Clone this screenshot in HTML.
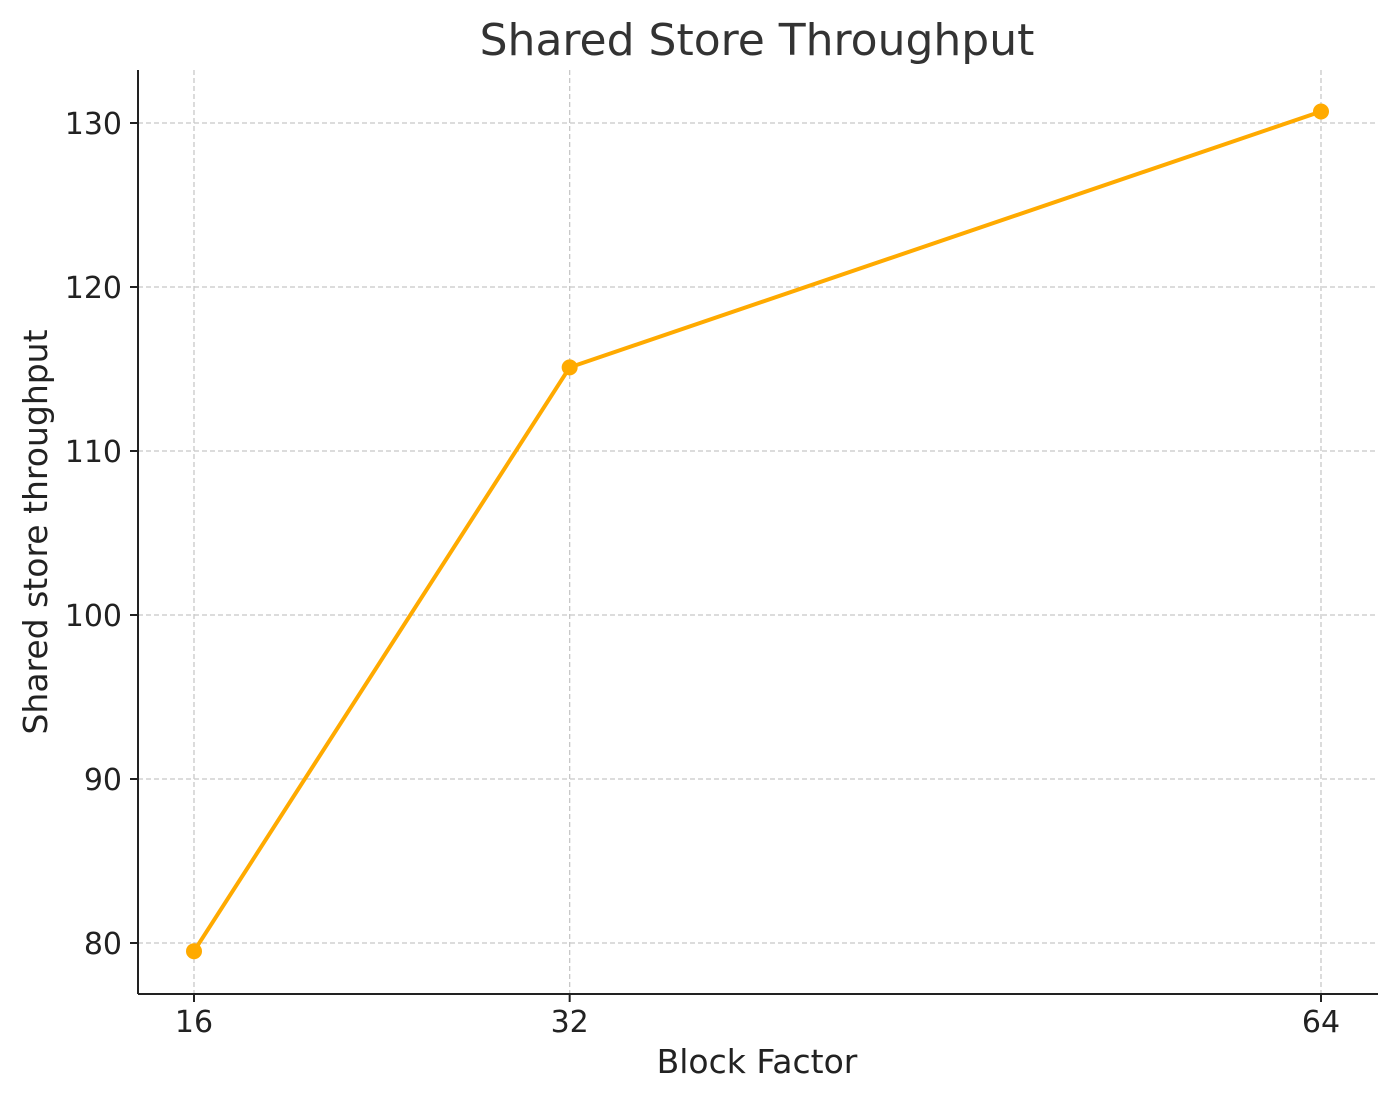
<!DOCTYPE html>
<html><head><meta charset="utf-8">
<style>
html,body{margin:0;padding:0;background:#fff;}
svg{display:block;font-family:"DejaVu Sans","Liberation Sans",sans-serif;}
</style></head>
<body>
<svg id="chart" width="1397" height="1101" viewBox="0 0 1397 1101" xmlns="http://www.w3.org/2000/svg">
<text x="757" y="55" text-anchor="middle" font-size="44" fill="#333">Shared Store Throughput</text>
<g id="grid"></g>
<g id="marks"></g>
<line x1="138" y1="70" x2="138" y2="994" stroke="#222" stroke-width="2"/>
<line x1="138" y1="994" x2="1378" y2="994" stroke="#222" stroke-width="2"/>
<g id="ticks"></g>
<text x="757" y="1073" text-anchor="middle" font-size="33" fill="#222">Block Factor</text>
<text transform="translate(47,532) rotate(-90)" text-anchor="middle" font-size="33" fill="#222">Shared store throughput</text>
</svg>
<script>
const categories = [16, 32, 64];
const values = [79.5, 115.1, 130.7];
const yTicks = [80, 90, 100, 110, 120, 130];
const xTicks = [16, 32, 64];

const NS = "http://www.w3.org/2000/svg";
function xs(v){ return 194 + (v - 16) * (1321 - 194) / 48; }
function ys(v){ return 943 - (v - 80) * (943 - 123) / 50; }
function mk(tag, attrs, parent){
  const e = document.createElementNS(NS, tag);
  for (const k in attrs) e.setAttribute(k, attrs[k]);
  parent.appendChild(e); return e;
}
const grid = document.getElementById('grid');
const ticks = document.getElementById('ticks');
const marks = document.getElementById('marks');

yTicks.forEach(t => {
  const y = ys(t);
  const g = mk('line', {x1:138, x2:1378, y1:y, y2:y, stroke:'#c8c8c8', 'stroke-width':1.3, 'stroke-dasharray':'5,3'}, grid);
  
  
  const tk = mk('line', {x1:130, x2:138, y1:y, y2:y, stroke:'#222', 'stroke-width':2}, ticks);
  
  
  const lb = mk('text', {x:122, y:y + 11, 'text-anchor':'end', 'font-size':30, fill:'#222'}, ticks);
  lb.textContent = t;
  
  
});
xTicks.forEach(t => {
  const x = xs(t);
  const g = mk('line', {x1:x, x2:x, y1:70, y2:994, stroke:'#c8c8c8', 'stroke-width':1.3, 'stroke-dasharray':'5,3'}, grid);
  
  
  const tk = mk('line', {x1:x, x2:x, y1:994, y2:1002, stroke:'#222', 'stroke-width':2}, ticks);
  
  
  const lb = mk('text', {x:x, y:1032, 'text-anchor':'middle', 'font-size':30, fill:'#222'}, ticks);
  lb.textContent = t;
  
  
});
const pts = categories.map((c, i) => xs(c) + ',' + ys(values[i])).join(' ');
const line = mk('polyline', {points:pts, fill:'none', stroke:'#FFAA00', 'stroke-width':4, 'stroke-linejoin':'round'}, marks);


categories.forEach((c, i) => {
  const p = mk('circle', {cx:xs(c), cy:ys(values[i]), r:8, fill:'#FFAA00'}, marks);
  
  
});
</script>
</body></html>
